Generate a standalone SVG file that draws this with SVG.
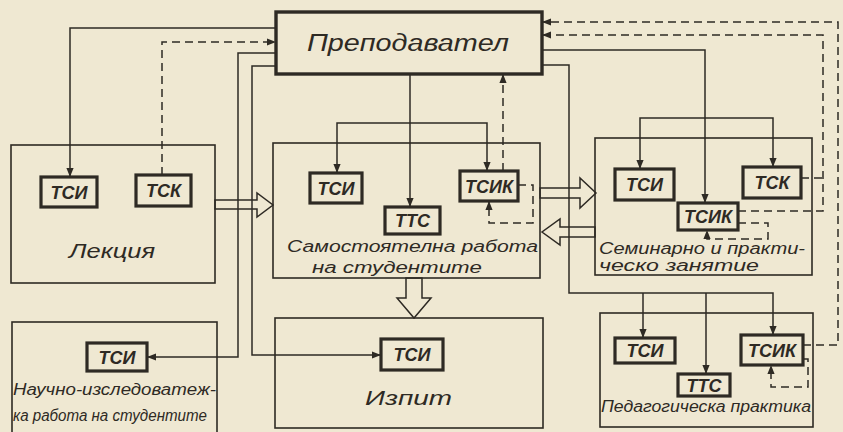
<svg xmlns="http://www.w3.org/2000/svg" width="843" height="432" viewBox="0 0 843 432">
<style>
.bg{fill:#efe8d2}
.box{fill:none;stroke:#2e2a24;stroke-width:1.6}
.tag{fill:none;stroke:#2e2a24;stroke-width:3.2}
.main{fill:none;stroke:#2e2a24;stroke-width:3.4}
.ln{fill:none;stroke:#2e2a24;stroke-width:1.5}
.ds{fill:none;stroke:#2e2a24;stroke-width:1.5;stroke-dasharray:8 5}
.hol{fill:none;stroke:#2e2a24;stroke-width:1.5;stroke-linejoin:miter}
text{font-family:"Liberation Sans","DejaVu Sans",sans-serif;font-style:italic;fill:#2e2a24}
.t{font-size:18px;text-anchor:middle;font-weight:bold}
.lbl{font-size:20px}
.sm{font-size:16px}
</style>
<defs>
<marker id="arr" viewBox="0 0 10 10" refX="10" refY="5" markerWidth="9" markerHeight="9" markerUnits="userSpaceOnUse" orient="auto">
<path d="M0,1 L10,5 L0,9 z" fill="#2e2a24"/>
</marker>
</defs>
<rect class="bg" x="0" y="0" width="843" height="432"/>

<g id="connectors">
<path class="ln" d="M276,28 H70 V177" marker-end="url(#arr)"/>
<path class="ds" d="M162,175 V42 H276" marker-end="url(#arr)"/>
<path class="ln" d="M276,53 H238 V357 H147" marker-end="url(#arr)"/>
<path class="ln" d="M276,66 H252 V355 H381" marker-end="url(#arr)"/>
<path class="ln" d="M410,74 V207" marker-end="url(#arr)"/>
<path class="ln" d="M410,123 H337 V173" marker-end="url(#arr)"/>
<path class="ln" d="M410,123 H487 V171" marker-end="url(#arr)"/>
<path class="ds" d="M503,171 V74" marker-end="url(#arr)"/>
<path class="ds" d="M518,185 H533 V223 H489 V201" marker-end="url(#arr)"/>
<path class="ln" d="M542,50 H705 V203" marker-end="url(#arr)"/>
<path class="ln" d="M705,118 H640 V169" marker-end="url(#arr)"/>
<path class="ln" d="M705,118 H773 V167" marker-end="url(#arr)"/>
<path class="ln" d="M542,65 H569 V293 H773 V335" marker-end="url(#arr)"/>
<path class="ln" d="M643,293 V338" marker-end="url(#arr)"/>
<path class="ln" d="M706,293 V374" marker-end="url(#arr)"/>
<path class="ds" d="M738,211 H823 V35 H542" marker-end="url(#arr)"/>
<path class="ds" d="M801,178 H823"/>
<path class="ds" d="M738,223 H768 V239 H707 V230" marker-end="url(#arr)"/>
<path class="ds" d="M803,345 H838 V22 H542" marker-end="url(#arr)"/>
<path class="ds" d="M803,359 H808 V387 H771 V365" marker-end="url(#arr)"/>
<polygon class="hol" points="215,200 257,200 257,193 273,205 257,217 257,209 215,209"/>
<polygon class="hol" points="540,188 580,188 580,178 596,193 580,208 580,198 540,198"/>
<polygon class="hol" points="595,227 560,227 560,219 542,232 560,245 560,237 595,237"/>
<polygon class="hol" points="406,278 406,298 397,298 414,318 431,298 422,298 422,278"/>
</g>

<g id="prepodavatel">
<rect class="main" x="276" y="12" width="266" height="62"/>
<text x="307" y="51" font-size="23" textLength="202" lengthAdjust="spacingAndGlyphs">Преподавател</text>
</g>

<g id="lekcia">
<rect class="box" x="11" y="145" width="204" height="138"/>
<text class="lbl" x="69" y="258" textLength="86" lengthAdjust="spacingAndGlyphs">Лекция</text>
</g>
<g id="lekcia-tsi"><rect class="tag" x="41" y="177" width="56" height="30"/><text class="t" x="69" y="198.5">ТСИ</text></g>
<g id="lekcia-tsk"><rect class="tag" x="136" y="175" width="55" height="31"/><text class="t" x="163.5" y="197">ТСК</text></g>

<g id="samostoyatelna">
<rect class="box" x="273" y="143" width="267" height="135"/>
<text class="sm" x="287" y="252" font-size="17" textLength="251" lengthAdjust="spacingAndGlyphs">Самостоятелна работа</text>
<text class="sm" x="312" y="273" font-size="17" textLength="170" lengthAdjust="spacingAndGlyphs">на студентите</text>
</g>
<g id="samost-tsi"><rect class="tag" x="310" y="173" width="52" height="30"/><text class="t" x="336" y="194.5">ТСИ</text></g>
<g id="samost-tts"><rect class="tag" x="385" y="207" width="55" height="27"/><text class="t" x="412.5" y="227">ТТС</text></g>
<g id="samost-tsik"><rect class="tag" x="460" y="171" width="58" height="30"/><text class="t" x="489" y="192.5">ТСИК</text></g>

<g id="seminarno">
<rect class="box" x="595" y="138" width="217" height="137"/>
<text class="sm" x="599" y="254" font-size="13" textLength="206" lengthAdjust="spacingAndGlyphs">Семинарно и практи-</text>
<text class="sm" x="599" y="271" font-size="13" textLength="160" lengthAdjust="spacingAndGlyphs">ческо занятие</text>
</g>
<g id="sem-tsi"><rect class="tag" x="615" y="169" width="59" height="31"/><text class="t" x="644.5" y="191">ТСИ</text></g>
<g id="sem-tsk"><rect class="tag" x="743" y="167" width="58" height="31"/><text class="t" x="772" y="189">ТСК</text></g>
<g id="sem-tsik"><rect class="tag" x="678" y="203" width="60" height="27"/><text class="t" x="708" y="223">ТСИК</text></g>

<g id="nauchno">
<rect class="box" x="12" y="322" width="205" height="115"/>
<text class="sm" x="13" y="395" font-size="16" textLength="203" lengthAdjust="spacingAndGlyphs">Научно-изследоватеж-</text>
<text class="sm" x="13" y="421" font-size="16" textLength="194" lengthAdjust="spacingAndGlyphs">ка работа на студентите</text>
</g>
<g id="nauchno-tsi"><rect class="tag" x="87" y="343" width="60" height="28"/><text class="t" x="117" y="363.5">ТСИ</text></g>

<g id="izpit">
<rect class="box" x="275" y="318" width="268" height="110"/>
<text class="lbl" x="365" y="405" textLength="87" lengthAdjust="spacingAndGlyphs">Изпит</text>
</g>
<g id="izpit-tsi"><rect class="tag" x="381" y="339" width="62" height="31"/><text class="t" x="412" y="361">ТСИ</text></g>

<g id="pedagogicheska">
<rect class="box" x="600" y="313" width="213" height="114"/>
<text class="sm" x="601" y="412" font-size="16" textLength="210" lengthAdjust="spacingAndGlyphs">Педагогическа практика</text>
</g>
<g id="ped-tsi"><rect class="tag" x="615" y="338" width="60" height="25"/><text class="t" x="645" y="357">ТСИ</text></g>
<g id="ped-tts"><rect class="tag" x="678" y="374" width="52" height="22"/><text class="t" x="704" y="391.5">ТТС</text></g>
<g id="ped-tsik"><rect class="tag" x="741" y="335" width="62" height="30"/><text class="t" x="772" y="356.5">ТСИК</text></g>
</svg>
